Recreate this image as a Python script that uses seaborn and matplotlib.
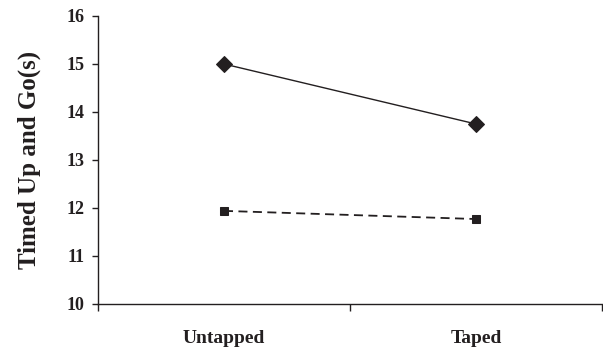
import matplotlib
matplotlib.use("Agg")
import matplotlib.pyplot as plt
import seaborn as sns
import pandas as pd

# data
conditions = ["Untapped", "Taped"]
group_a = [15.0, 13.75]
group_b = [11.94, 11.77]

sns.set_style("white")
plt.rcParams['font.family'] = ['Liberation Serif', 'DejaVu Serif']
ink = "#231f20"

df = pd.DataFrame({
    "x": [0.5, 1.5, 0.5, 1.5],
    "y": group_a + group_b,
    "grp": ["a", "a", "b", "b"],
})

fig = plt.figure(figsize=(6.03, 3.52), dpi=100)
ax = fig.add_axes([98/603, 48/352, 504/603, 288/352])

sns.lineplot(data=df[df.grp == "a"], x="x", y="y", ax=ax, color=ink,
             marker="D", markersize=8, linewidth=1, markeredgecolor=ink)
sns.lineplot(data=df[df.grp == "b"], x="x", y="y", ax=ax, color=ink,
             marker="s", markersize=5.5, linewidth=1.3, linestyle=(0, (5, 3)),
             markeredgecolor=ink)

ax.set_xlim(0, 2)
ax.set_ylim(10, 16)
ax.set_yticks(range(10, 17))
ax.set_xticks([0, 1, 2])
ax.set_xticklabels([])
ax.set_xticks([0.5, 1.5], minor=True)
ax.set_xticklabels(conditions, minor=True, fontsize=14, fontweight="bold", color=ink)
ax.tick_params(axis="x", which="minor", bottom=True, length=0, pad=19)
ax.tick_params(axis="x", which="major", bottom=True, direction="out", length=5, width=1, color=ink)
ax.tick_params(axis="y", left=True, direction="out", length=4, width=1, color=ink,
               labelsize=13, labelcolor=ink, pad=6)
for t in ax.get_yticklabels():
    t.set_fontweight("bold")

ax.set_xlabel("")
ax.set_ylabel("Timed Up and Go(s)", fontsize=18, fontweight="bold", color=ink, labelpad=18)

for s in ["top", "right"]:
    ax.spines[s].set_visible(False)
for s in ["left", "bottom"]:
    ax.spines[s].set_color(ink)
    ax.spines[s].set_linewidth(1)

fig.savefig("out.png", dpi=100)
